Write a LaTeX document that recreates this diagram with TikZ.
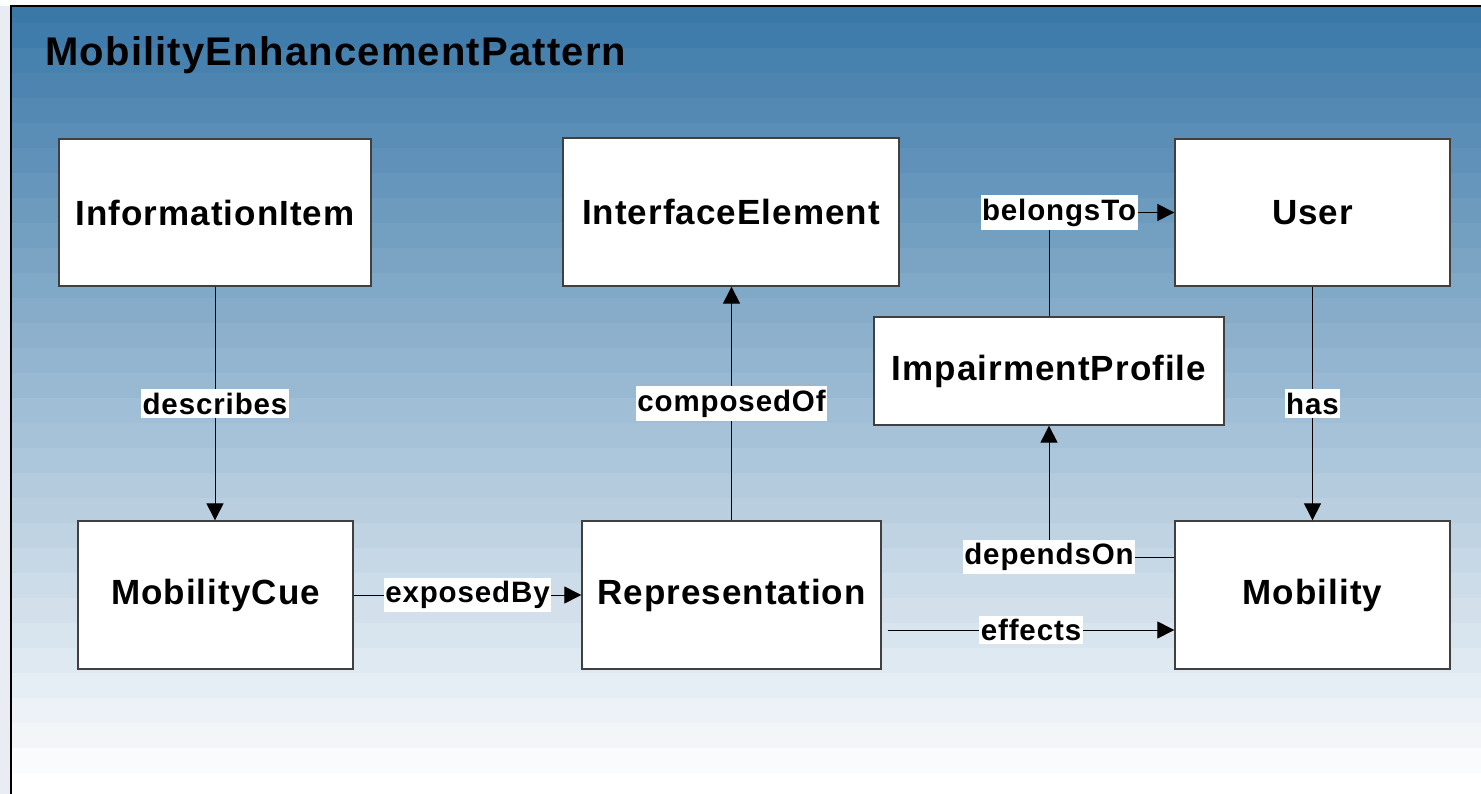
\documentclass[tikz,border=0pt]{standalone}
\usepackage{fontspec}
\setmainfont{Liberation Sans}[LetterSpace=3]
\usetikzlibrary{arrows.meta}
\definecolor{topblue}{RGB}{58,120,168}
\definecolor{outerbg}{RGB}{233,236,243}
\begin{document}
\begin{tikzpicture}[x=1pt,y=-1pt,
  box/.style={draw=black!75, line width=1.3pt, fill=white, inner sep=0pt, font=\fontsize{35}{38}\selectfont\bfseries},
  lbl/.style={fill=white, inner xsep=1.5pt, inner ysep=3.5pt, font=\fontsize{29.5}{32}\selectfont\bfseries},
  conn/.style={draw=black, line width=1pt},
  arr/.style={conn, -{Triangle[length=17pt,width=17pt]}},
]
\useasboundingbox (0,0) rectangle (1481,794);
\fill[white] (0,0) rectangle (1481,794);
\fill[outerbg] (0,6) rectangle (11,794);
\foreach \k in {0,...,30}{
  \pgfmathsetmacro{\p}{100*(30-\k)/31}
  \pgfmathsetmacro{\ya}{max(7,773-25*(\k+1))}
  \pgfmathsetmacro{\yb}{773-25*\k}
  \fill[white!\p!topblue] (12,\ya) rectangle (1481,\yb);
}
\draw[line width=2pt] (11,794) -- (11,6) -- (1481,6);

\node[anchor=base west, font=\fontsize{40}{44}\selectfont\bfseries, inner sep=0pt] (title) at (45,66) {MobilityEnhancementPattern};

\node[box, minimum width=312pt, minimum height=147pt] (info) at (215,212.5) {InformationItem};
\node[box, minimum width=336pt, minimum height=148pt] (ie) at (731,212) {InterfaceElement};
\node[box, minimum width=275pt, minimum height=147pt] (user) at (1312.5,212.5) {User};
\node[box, minimum width=350pt, minimum height=108pt] (ip) at (1049,371) {ImpairmentProfile};
\node[box, minimum width=275pt, minimum height=148pt] (cue) at (215.5,595) {MobilityCue};
\node[box, minimum width=299pt, minimum height=148pt] (rep) at (731.5,595) {Representation};
\node[box, minimum width=275pt, minimum height=148pt] (mob) at (1312.5,595) {Mobility};

\draw[arr] (info.south) -- node[lbl]{describes} (info.south |- cue.north);
\draw[arr] (rep.north) -- node[lbl]{composedOf} (rep.north |- ie.south);
\draw[arr] (ip.north) |- node[lbl,pos=0.5,xshift=10pt]{belongsTo} (user.west);
\draw[arr] (user.south) -- node[lbl]{has} (user.south |- mob.north);
\draw[arr] ([yshift=38pt]mob.west) -| node[lbl,pos=0.5]{dependsOn} (ip.south);
\draw[arr] (cue.east) -- node[lbl]{exposedBy} (rep.west);
\draw[arr] ([xshift=6pt,yshift=-35pt]rep.east) -- node[lbl]{effects} ([yshift=-35pt]mob.west);
\end{tikzpicture}
\end{document}
